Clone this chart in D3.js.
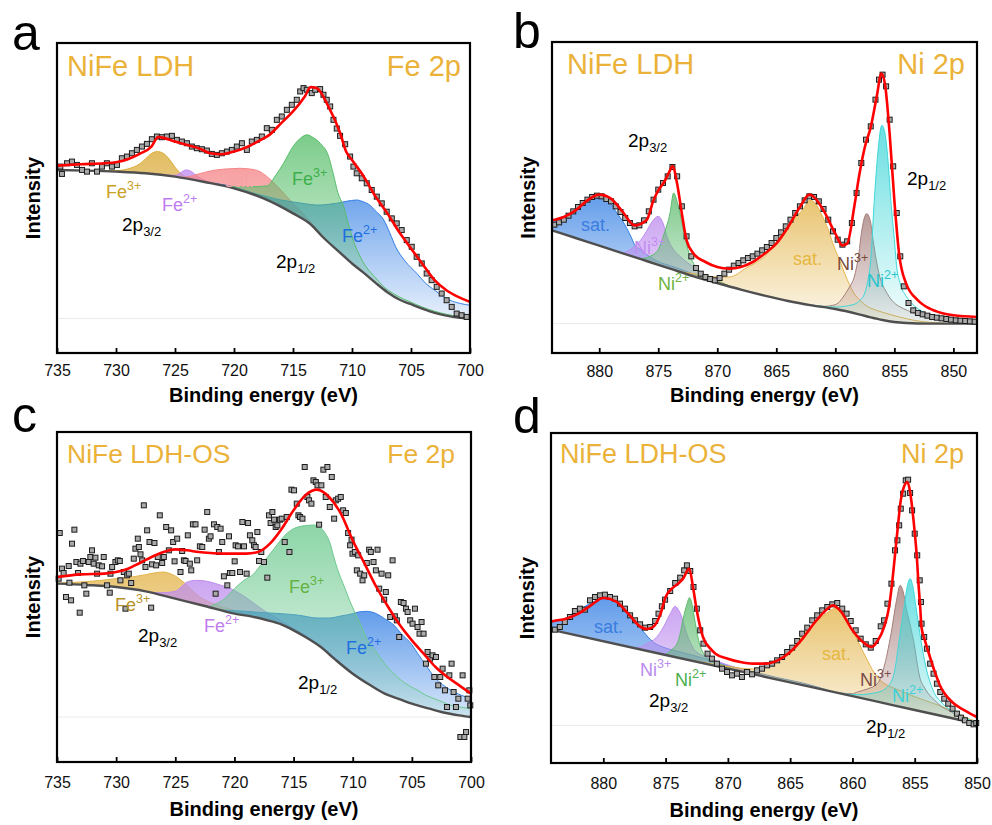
<!DOCTYPE html>
<html>
<head>
<meta charset="utf-8">
<script src="https://cdn.jsdelivr.net/npm/d3@7"></script>
<style>
  body { margin: 0; background: #fff; }
  svg text { font-family: Arial, "Liberation Sans", Helvetica, sans-serif; }
</style>
</head>
<body>
<script>
// ---------- data: [binding energy (eV), intensity (a.u.)] ----------

// panel a : NiFe LDH, Fe 2p
const aData = [[734.72,558],[734.58,536],[734.15,568],[733.73,573],[733.31,563],[732.88,548],[732.46,543],[732.04,568],[731.61,543],[731.19,558],[730.77,568],[730.34,558],[729.92,563],[729.50,583],[729.07,588],[728.65,598],[728.23,608],[727.80,618],[727.38,626],[726.96,640],[726.53,648],[726.11,646],[725.69,648],[725.26,650],[724.84,638],[724.42,633],[723.99,628],[723.57,618],[723.15,613],[722.72,610],[722.30,606],[721.88,596],[721.45,593],[721.03,598],[720.60,603],[720.18,608],[719.76,618],[719.33,628],[718.91,608],[718.49,633],[718.06,638],[717.64,648],[717.22,673],[716.79,668],[716.37,698],[715.95,708],[715.52,728],[715.10,743],[714.68,758],[714.39,783],[714.11,793],[713.83,788],[713.41,778],[713.12,788],[712.70,790],[712.42,773],[712.14,758],[711.85,738],[711.57,698],[711.29,672],[711.01,650],[710.58,625],[710.16,588],[709.88,558],[709.60,538],[709.17,523],[708.75,508],[708.33,488],[707.90,468],[707.48,448],[707.06,423],[706.63,403],[706.21,388],[705.79,368],[705.36,338],[704.94,318],[704.52,288],[704.09,268],[703.67,238],[703.25,218],[702.82,198],[702.40,178],[701.98,158],[701.55,138],[701.13,118],[700.71,113],[700.28,108]];
const aFit = [[735,561],[733,565],[731,568],[730,571],[729,580],[728,596],[727,618],[726.4,647],[726,644],[725,633],[724.3,626],[723.5,618],[723,613],[722,598],[721,595],[720,603],[719,615],[718,633],[717,653],[716,688],[715,723],[714,768],[713.5,796],[713,793],[712,738],[711,658],[710.5,603],[710,578],[709,528],[708,468],[707,418],[706,362],[705,313],[704,265],[703,218],[702,188],[701,168],[700,153]];
const aBg = [[735,548],[732.5,546],[730,543],[727.5,538],[725,528],[722.5,512],[720,493],[717.5,463],[715,418],[713.5,385],[712.5,348],[711,300],[710,268],[709,240],[708,210],[707,182],[706,160],[705,146],[704,132],[703,120],[702,112],[701,106],[700,103]];
const aFe3Low = [[735,548],[731,546],[730,546],[729,551],[728,566],[727.5,581],[727,597],[726.5,603],[726,598],[725.5,581],[725,556],[724.5,537],[724,526],[723,516],[722,508],[720,494],[718,470]];
const aFe2Low = [[727,537],[726,533],[725,532],[724.5,540],[724.1,548],[723.7,545],[723.2,532],[722.5,517],[722,511],[721,504],[720,497],[718,474],[716,445],[715,424]];
const aSat = [[724.5,526],[724,527],[723,536],[722,545],[721,550],[720,552],[719.5,553],[719,552],[718,546],[717.5,536],[717,522],[716.5,505],[716,487],[715.5,467],[715,448],[714,412],[713.5,392],[713,372],[712.5,352],[712,333]];
const aFe3High = [[723,516],[722.3,506],[720,498],[718.5,498],[717.2,500],[716.5,530],[715.8,568],[715,618],[714.4,642],[713.8,653],[713.3,645],[712.7,628],[712,590],[711.6,538],[711.2,480],[710.7,438],[710.3,385],[709.9,338],[709.4,295],[708.8,258],[708,225],[707.3,198],[706.5,178],[706,168],[705,152],[704,137],[703,125],[702,116],[701,110],[700,107]];
const aFe2High = [[722,509],[720,497],[718.5,480],[717.2,468],[716,458],[715,452],[714,447],[713,443],[712.7,443],[712,445],[711.3,448],[710.5,454],[709.6,458],[709,452],[708.5,443],[708,425],[707.3,398],[706.8,360],[706.3,318],[705.5,275],[704.5,238],[703.8,210],[703,188],[702.3,170],[701.7,158],[700.8,148],[700,143]];

// panel b : NiFe LDH, Ni 2p
const bData = [[883.8,385],[883.4,392],[883.0,400],[882.6,412],[882.2,425],[881.8,438],[881.4,450],[881.0,460],[880.6,468],[880.2,472],[879.8,470],[879.4,462],[879.0,455],[878.6,440],[878.2,423],[877.8,405],[877.4,390],[877.0,380],[876.6,383],[876.2,398],[875.8,425],[875.4,460],[875.0,490],[874.6,510],[874.2,530],[873.8,558],[873.4,530],[873.0,440],[872.6,350],[872.2,290],[871.8,255],[871.4,238],[871.0,228],[870.6,222],[870.2,218],[869.8,225],[869.4,238],[869.0,250],[868.6,262],[868.2,270],[867.8,278],[867.4,285],[867.0,290],[866.6,298],[866.2,308],[865.8,318],[865.4,330],[865.0,345],[864.6,362],[864.2,380],[863.8,400],[863.4,420],[863.0,440],[862.6,458],[862.2,470],[861.8,468],[861.4,455],[861.0,432],[860.6,400],[860.2,365],[859.8,340],[859.4,325],[859.0,335],[858.6,390],[858.2,480],[857.8,570],[857.4,640],[857.0,680],[856.6,760],[856.3,820],[856.0,835],[855.7,800],[855.4,700],[855.1,560],[854.8,420],[854.5,290],[854.2,200],[853.8,150],[853.4,128],[853.0,120],[852.6,116],[852.2,112],[851.8,108],[851.4,106],[851.0,104],[850.6,102],[850.2,100],[849.8,98],[849.4,97],[849.0,96],[848.6,95],[848.2,94]];
const bFit = [[884,398],[883,408],[882,428],[881,458],[880,475],[879,463],[878,423],[877,383],[876,398],[875.4,458],[875,488],[874.5,513],[874,548],[873.8,561],[873.4,508],[873,418],[872.6,338],[872,298],[871,273],[870,258],[869,253],[868,258],[867,273],[866,298],[865,328],[864,378],[863,438],[862.2,475],[862,473],[861,428],[860,358],[859.4,323],[859,328],[858.4,438],[858,528],[857.5,618],[857,678],[856.5,768],[856.1,838],[855.8,808],[855.4,658],[855,458],[854.6,298],[854,208],[853,158],[852,133],[851,120],[850,113],[848,108]];
const bBg = [[884,368],[882,345],[880,322],[878,299],[876,276],[874,253],[872,230],[870,210],[868,190],[866,172],[864,156],[862,143],[860,132],[858,116],[857,107],[856,99],[855,93],[854,90],[852,88],[848,88]];
const bSatHigh = [[884,393],[883,408],[882,430],[881,455],[880.3,476],[879.5,465],[879,448],[878.5,420],[878,395],[877.3,348],[877,325],[876.5,310],[876,296],[875.5,284],[875,274],[874,262],[873,250],[872,236],[871,224],[870,211]];
const bNi3High = [[879,311],[878,301],[877.4,310],[876.5,338],[876,365],[875.5,395],[875,410],[874.6,390],[874.25,348],[873.7,310],[873.1,288],[872.5,270],[872,258],[871.5,242],[871,230],[870,216],[869,201]];
const bNi2High = [[876.5,282],[875.7,290],[875,310],[874.5,358],[874,420],[873.7,480],[873.3,440],[872.8,358],[872.4,300],[872,268],[871.7,248],[871,232],[870,218],[869,201]];
const bSatLow = [[874,254],[873,244],[872,238],[871,232],[870,228],[869,228],[868.5,233],[867.7,252],[866.8,270],[866,290],[865.5,310],[864.9,338],[863.8,388],[862.6,438],[862.2,458],[861.9,456],[861.2,418],[860.6,370],[860.1,318],[859.6,275],[859.2,238],[858.8,205],[858.4,178],[857.9,158],[857.3,140],[856.5,128],[855.3,115],[854,103],[853,96],[851,90],[849,88],[848,88]];
const bNi3Low = [[862,144],[861,140],[860,145],[859.5,160],[859.2,175],[858.8,198],[858.4,228],[858,300],[857.8,358],[857.34,418],[857,390],[856.8,338],[856.3,238],[855.6,178],[855,150],[854.5,138],[853.9,128],[853,115],[852,105],[851,98],[850,95],[848,92]];
const bNi2Low = [[862,144],[860,138],[858.5,145],[858,155],[857.5,180],[857.3,208],[857,280],[856.7,458],[856.4,600],[856.06,683],[855.8,660],[855.5,560],[855.3,458],[855,340],[854.8,258],[854.5,208],[854,170],[853.5,148],[852.5,122],[851,106],[849,94],[848,92]];

// panel c : NiFe LDH-OS, Fe 2p
const cData = [[734.86,550],[734.77,687],[734.58,580],[734.44,567],[734.24,495],[734.01,588],[733.95,538],[733.81,485],[733.73,655],[733.53,697],[733.36,600],[733.22,567],[733.08,448],[733.02,595],[732.80,603],[732.69,530],[732.52,505],[732.32,600],[732.18,615],[732.04,635],[731.90,595],[731.75,613],[731.61,565],[731.47,590],[731.19,587],[731.05,615],[730.77,530],[730.54,508],[730.48,565],[730.34,585],[730.06,600],[729.86,605],[729.69,603],[729.64,545],[729.35,570],[729.21,460],[729.07,560],[728.93,565],[728.73,537],[728.51,610],[728.37,640],[728.17,670],[728.08,645],[727.94,623],[727.80,605],[727.66,770],[727.52,585],[727.38,695],[727.18,660],[727.04,463],[726.96,593],[726.76,657],[726.62,590],[726.48,615],[726.31,740],[726.11,597],[725.97,615],[725.77,705],[725.54,635],[725.35,695],[725.18,660],[725.06,602],[724.84,670],[724.56,570],[724.42,633],[724.27,605],[724.13,603],[723.94,680],[723.77,595],[723.65,575],[723.51,713],[723.29,713],[723.15,605],[722.92,647],[722.72,645],[722.52,697],[722.30,750],[722.16,670],[722.02,677],[721.73,713],[721.59,505],[721.45,705],[721.31,630],[721.17,700],[721.03,660],[720.89,557],[720.60,530],[720.46,677],[720.38,567],[720.18,567],[719.98,602],[719.90,650],[719.70,647],[719.53,570],[719.33,720],[719.19,647],[718.97,565],[718.85,717],[718.69,680],[718.49,665],[718.35,650],[718.21,645],[718.06,690],[717.92,603],[717.73,630],[717.50,600],[717.22,553],[717.08,740],[716.94,717],[716.79,750],[716.65,727],[716.51,705],[716.37,710],[716.15,727],[716.00,730],[715.75,660],[715.58,735],[715.35,630],[715.18,817],[714.96,815],[714.73,775],[714.59,740],[714.45,735],[714.25,730],[714.06,885],[713.83,795],[713.69,785],[713.49,775],[713.32,845],[713.12,840],[712.98,830],[712.84,712],[712.65,830],[712.48,877],[712.28,795],[712.14,885],[711.94,765],[711.77,855],[711.57,730],[711.43,785],[711.23,790],[711.01,795],[710.81,755],[710.58,747],[710.39,687],[710.22,650],[710.10,667],[710.02,625],[709.82,630],[709.65,575],[709.54,620],[709.37,565],[709.17,545],[709.03,560],[708.81,597],[708.61,637],[708.47,630],[708.24,600],[708.04,575],[707.90,637],[707.76,520],[707.56,565],[707.34,487],[707.20,510],[707.00,560],[706.83,435],[706.63,605],[706.43,437],[706.27,425],[706.07,375],[705.93,480],[705.70,477],[705.50,460],[705.36,450],[705.14,425],[704.94,415],[704.74,460],[704.52,405],[704.35,385],[704.18,420],[704.01,385],[703.81,295],[703.67,330],[703.47,310],[703.25,320],[703.10,255],[702.96,315],[702.77,230],[702.60,255],[702.40,280],[702.20,215],[702.03,165],[701.83,260],[701.64,295],[701.47,210],[701.27,165],[701.07,190],[700.90,75],[700.71,260],[700.56,75],[700.42,90],[700.28,190],[700.14,215],[700.06,170]];
const cFit = [[735,555],[733,563],[731,565],[730,570],[729,580],[728,597],[727,615],[726,630],[725,638],[724,635],[723,630],[722,627],[721,625],[720,625],[719,625],[718,630],[717,655],[716,700],[715,755],[714,800],[713,817],[712,795],[711,745],[710,665],[709,595],[708,525],[707,465],[706,410],[705,365],[704,325],[703,285],[702,255],[701,230],[700,205]];
const cBg = [[735,535],[732.5,531],[730,525],[727.5,512],[725,490],[722.5,468],[720,445],[718.5,436],[717.2,425],[716,412],[715,395],[714,375],[712.7,345],[711.5,308],[710,265],[708.5,230],[707.3,205],[706,188],[705,175],[703.5,160],[702.5,150],[701,140],[700,135]];
const cFe3Low = [[735,537],[733,540],[731,546],[729.5,552],[728.5,556],[727.5,562],[726.8,567],[726,570],[725.5,566],[725,558],[724.5,545],[724,530],[723.5,512],[722.9,495],[722,478],[721,465],[720,455],[719,442],[718,434],[717,428],[716,412],[715,398],[714,378],[713,352]];
const cFe2Low = [[727,508],[726,508],[725,512],[724.5,525],[724,540],[723.2,545],[722.3,542],[721.3,532],[720.3,520],[719.3,500],[718.3,475],[717.4,452],[716.6,435],[715.8,418],[715.2,405],[714,380],[713,355],[712,328],[711,297],[710,268],[709,243]];
const cFe3High = [[722,469],[721,485],[720,520],[719.2,545],[718.35,565],[717.8,590],[717.2,615],[716.6,642],[716.1,665],[715.5,688],[715,700],[714.4,707],[713.8,710],[713.2,711],[712.8,705],[712.3,685],[711.9,655],[711.6,615],[711.2,570],[710.7,525],[710.3,488],[709.9,455],[709.3,410],[708.75,365],[708,330],[707.3,295],[706.6,268],[705.9,245],[705.2,228],[704.5,215],[703.8,200],[703.1,190],[702.4,180],[701.7,170],[700.8,164],[700,160]];
const cFe2High = [[721,456],[719,452],[717.5,448],[716,445],[714.5,440],[713,432],[712,432],[711,438],[710,445],[709.5,450],[708.8,452],[708,445],[707.3,430],[706.5,410],[705.9,385],[705,352],[704.5,325],[703.8,290],[703.1,255],[702.4,232],[701.7,215],[700.8,200],[700,190]];

// panel d : NiFe LDH-OS, Ni 2p
const dData = [[883.89,400],[883.49,408],[883.09,423],[882.68,438],[882.28,456],[881.88,463],[881.48,460],[881.07,488],[880.67,498],[880.27,503],[879.87,505],[879.46,498],[879.06,493],[878.66,478],[878.26,463],[877.85,443],[877.45,428],[877.05,416],[876.65,406],[876.24,408],[875.84,426],[875.57,448],[875.30,470],[875.04,490],[874.63,516],[874.23,540],[873.83,556],[873.51,578],[873.29,593],[873.02,576],[872.76,528],[872.49,463],[872.22,398],[871.96,358],[871.63,328],[871.28,313],[870.88,298],[870.47,283],[870.07,273],[869.67,263],[869.27,268],[868.87,258],[868.46,273],[868.06,266],[867.66,278],[867.26,283],[866.85,293],[866.45,298],[866.05,308],[865.65,318],[865.24,333],[864.84,346],[864.44,366],[864.04,388],[863.63,406],[863.23,428],[862.83,443],[862.43,458],[862.02,468],[861.62,476],[861.22,480],[860.82,463],[860.47,448],[860.14,426],[859.74,398],[859.34,373],[858.93,356],[858.53,346],[858.13,366],[857.73,410],[857.46,428],[857.19,478],[856.87,538],[856.58,638],[856.39,668],[856.25,713],[856.12,763],[855.93,808],[855.72,848],[855.53,850],[855.37,810],[855.21,758],[855.0,688],[854.8,623],[854.6,548],[854.5,483],[854.45,418],[854.24,378],[854.02,343],[853.76,298],[853.49,268],[853.22,238],[852.95,213],[852.63,193],[852.31,178],[851.96,163],[851.61,148],[851.29,136],[850.97,128],[850.62,120],[850.27,116],[850.06,120]];
const dFit = [[884.2,424],[884,426],[883,433],[882,448],[881,473],[880,495],[879,485],[878,448],[877,408],[876.5,402],[876,408],[875.4,448],[875,498],[874.5,523],[874,538],[873.6,553],[873.1,583],[872.8,528],[872.5,458],[872,378],[871.4,343],[871,328],[870,313],[869,303],[868,298],[867,298],[866,308],[865,333],[864,373],[863,423],[862,463],[861.6,473],[861,458],[860,398],[859,358],[858.45,348],[858,365],[857.46,408],[857.06,468],[856.79,548],[856.52,648],[856.33,718],[856.12,788],[855.85,830],[855.58,843],[855.38,815],[855.18,758],[854.99,688],[854.83,618],[854.70,538],[854.56,468],[854.46,408],[854.2,370],[854,345],[853.4,275],[853,235],[852,183],[851,158],[850,138]];
const dBg = [[884.2,400],[875,324],[865,242],[858,184],[855,159],[850,118]];
const dSatHigh = [[884.2,422],[883,435],[882.4,448],[881.1,478],[880.4,490],[879.8,494],[879,485],[878.5,470],[877.85,448],[877.3,420],[876.8,395],[876,363],[875,345],[873.8,333],[872.5,320],[871.4,308],[870,292],[868,274],[866,256],[864,240],[862,219]];
const dNi3High = [[877.5,345],[877,348],[876.5,358],[876,368],[875.5,388],[875.17,408],[874.63,448],[874.23,470],[873.9,455],[873.7,438],[873.3,388],[872.76,343],[872.2,325],[871.7,318],[870.3,298],[869,282],[867,259]];
const dNi2High = [[875,325],[874.5,340],[874,365],[873.83,388],[873.56,438],[873.3,475],[873.08,496],[872.9,480],[872.7,438],[872.35,368],[871.95,328],[871.4,308],[870.5,295],[869.5,282],[868,267]];
const dSatLow = [[873,309],[872,302],[870,290],[868,282],[867,288],[866,305],[865.5,318],[864.9,340],[864.4,368],[863.4,408],[862.3,443],[861.5,463],[861.1,466],[860.8,458],[860.4,428],[860,400],[859.6,368],[859.2,338],[858.8,308],[858.4,280],[858,258],[857.5,240],[856.9,228],[856,215],[855.6,208],[854.2,188],[853,172],[851.6,150],[850.6,132],[850,125]];
const dNi3Low = [[861,210],[860,208],[859.6,213],[858.8,222],[858,238],[857.46,288],[857.2,330],[856.9,388],[856.5,480],[856.17,533],[855.9,510],[855.7,468],[855.4,420],[855.1,368],[854.6,258],[854.2,225],[853.9,208],[853.4,188],[852.8,168],[852,152],[851.5,138],[850.5,126],[850,122]];
const dNi2Low = [[861,210],[859.6,205],[858,212],[857.2,228],[856.66,268],[856.25,368],[855.85,468],[855.6,530],[855.37,553],[855.15,530],[854.9,468],[854.5,368],[854.1,288],[853.7,235],[853.4,208],[852.8,180],[852.1,158],[851.2,140],[850.5,128],[850,122]];

// ---------- layout ----------
const W = 992, H = 825;
const svg = d3.select("body").append("svg").attr("width", W).attr("height", H);
const defs = svg.append("defs");

const C = {
  feGold: "#D9AA35", fePurple: "#C08AF2", satPink: "#F58588", green: "#57BE6A", blue: "#3580E4",
  niPurple: "#BE8DEE", niGreen: "#5DBB6E", satGold: "#E3B44A", brown: "#A57E7B", cyan: "#3FD6D8",
  title: "#EBB23A"
};

const panels = [
  { id: "a", letter: "a", box: { l: 57, r: 470, t: 43, b: 353 }, x: [735, 700], yMax: 928, base: 103,
    ticks: [735, 730, 725, 720, 715, 710, 705, 700], tp: 12, axisY: 402,
    data: aData, fit: aFit, bg: aBg,
    comps: [[aFe3Low, C.feGold], [aFe2Low, C.fePurple], [aSat, C.satPink], [aFe2High, C.blue], [aFe3High, C.green]],
    title: "NiFe LDH", core: "Fe 2p", ts: 29, tl: [67, 76], tr: [461, 76], ly: 50, lx: 12,
    labels: [
      { t: "Fe", sup: "3+", x: 106, y: 198, c: "#C9A227" },
      { t: "Fe", sup: "2+", x: 162, y: 211, c: "#BF7CF2" },
      { t: "2p", sub: "3/2", x: 122, y: 231, c: "#000" },
      { t: "sat.", x: 225, y: 187, c: "#F7A3A3" },
      { t: "Fe", sup: "3+", x: 292, y: 185, c: "#3DAF4A" },
      { t: "Fe", sup: "2+", x: 342, y: 242, c: "#1E6FE0" },
      { t: "2p", sub: "1/2", x: 276, y: 268, c: "#000" }
    ] },
  { id: "b", letter: "b", box: { l: 552, r: 977, t: 42, b: 353 }, x: [884, 848], yMax: 933, base: 88,
    ticks: [880, 875, 870, 865, 860, 855, 850], tp: 13, axisY: 402,
    data: bData, fit: bFit, bg: bBg,
    comps: [[bSatHigh, C.blue], [bNi3High, C.niPurple], [bNi2High, C.niGreen], [bSatLow, C.satGold], [bNi3Low, C.brown], [bNi2Low, C.cyan]],
    title: "NiFe LDH", core: "Ni 2p", ts: 29, tl: [567, 74], tr: [965, 74], ly: 48, lx: 513,
    labels: [
      { t: "2p", sub: "3/2", x: 628, y: 147, c: "#000" },
      { t: "sat.", x: 581, y: 231, c: "#3A7DE0" },
      { t: "Ni", sup: "3+", x: 634, y: 254, c: "#C38DF2" },
      { t: "Ni", sup: "2+", x: 658, y: 290, c: "#6DB33F" },
      { t: "sat.", x: 793, y: 265, c: "#E6B740" },
      { t: "Ni", sup: "3+", x: 837, y: 270, c: "#7A4B3A" },
      { t: "Ni", sup: "2+", x: 867, y: 287, c: "#27C6CF" },
      { t: "2p", sub: "1/2", x: 907, y: 185, c: "#000" }
    ] },
  { id: "c", letter: "c", box: { l: 57, r: 471, t: 432, b: 762 }, x: [735, 700], yMax: 990, base: 135,
    ticks: [735, 730, 725, 720, 715, 710, 705, 700], tp: 15, axisY: 816,
    data: cData, fit: cFit, bg: cBg,
    comps: [[cFe3Low, C.satGold], [cFe2Low, C.niPurple], [cFe2High, C.blue], [cFe3High, "#6CC98F"]],
    title: "NiFe LDH-OS", core: "Fe 2p", ts: 26.5, tl: [67, 463], tr: [455, 463], ly: 432, lx: 12,
    labels: [
      { t: "Fe", sup: "3+", x: 115, y: 611, c: "#B8922A" },
      { t: "Fe", sup: "2+", x: 204, y: 632, c: "#C07CF0" },
      { t: "2p", sub: "3/2", x: 138, y: 642, c: "#000" },
      { t: "Fe", sup: "3+", x: 289, y: 593, c: "#64B343" },
      { t: "Fe", sup: "2+", x: 346, y: 654, c: "#1E6FE0" },
      { t: "2p", sub: "1/2", x: 298, y: 689, c: "#000" }
    ] },
  { id: "d", letter: "d", box: { l: 551, r: 977, t: 433, b: 763 }, x: [884.2, 850], yMax: 990, base: 113,
    ticks: [880, 875, 870, 865, 860, 855, 850], tp: 15, axisY: 817,
    data: dData, fit: dFit, bg: dBg,
    comps: [[dSatHigh, C.blue], [dNi3High, C.niPurple], [dNi2High, C.niGreen], [dSatLow, C.satGold], [dNi3Low, C.brown], [dNi2Low, C.cyan]],
    title: "NiFe LDH-OS", core: "Ni 2p", ts: 27, tl: [560, 463], tr: [964, 463], ly: 433, lx: 513,
    labels: [
      { t: "sat.", x: 594, y: 633, c: "#3A7DE0" },
      { t: "Ni", sup: "3+", x: 640, y: 676, c: "#B98AF0" },
      { t: "Ni", sup: "2+", x: 675, y: 686, c: "#4CAF50" },
      { t: "2p", sub: "3/2", x: 649, y: 707, c: "#000" },
      { t: "sat.", x: 822, y: 660, c: "#E6B740" },
      { t: "Ni", sup: "3+", x: 860, y: 686, c: "#7A4B4B" },
      { t: "Ni", sup: "2+", x: 892, y: 702, c: "#3CD0D8" },
      { t: "2p", sub: "1/2", x: 866, y: 733, c: "#000" }
    ] }
];

const byX = arr => arr.slice().sort((p, q) => q[0] - p[0]);

function addLabel(g, l) {
  const isP = l.t === "2p";
  const t = g.append("text").attr("x", l.x).attr("y", l.y).attr("fill", l.c)
    .style("font-size", (isP ? 19 : 18) + "px");
  t.append("tspan").text(l.t);
  if (l.sup) t.append("tspan").attr("dy", -8).style("font-size", "12.5px").text(l.sup);
  if (l.sub) t.append("tspan").attr("dy", 5).style("font-size", "13px").text(l.sub);
}

panels.forEach(p => {
  const x = d3.scaleLinear().domain(p.x).range([p.box.l, p.box.r]);
  const y = d3.scaleLinear().domain([0, p.yMax]).range([p.box.b, p.box.t]);
  const g = svg.append("g");

  const line = d3.line().x(d => x(d[0])).y(d => y(d[1])).curve(d3.curveMonotoneX);

  // clip: only what lies above the background
  const clipId = "clip-" + p.id;
  defs.append("clipPath").attr("id", clipId).append("path")
    .attr("d", d3.area().x(d => x(d[0])).y0(p.box.t).y1(d => y(d[1])).curve(d3.curveMonotoneX)(byX(p.bg)));

  // faint zero line
  g.append("line").attr("x1", p.box.l).attr("x2", p.box.r)
    .attr("y1", y(p.base)).attr("y2", y(p.base))
    .attr("stroke", "#eaeaea").attr("stroke-width", 1);

  // fitted components
  p.comps.forEach((c, i) => {
    const gid = `grad-${p.id}-${i}`;
    const grad = defs.append("linearGradient").attr("id", gid)
      .attr("x1", 0).attr("y1", 0).attr("x2", 0).attr("y2", 1);
    grad.append("stop").attr("offset", 0).attr("stop-color", c[1]).attr("stop-opacity", 0.78);
    grad.append("stop").attr("offset", 0.9).attr("stop-color", c[1]).attr("stop-opacity", 0.03);

    const pts = byX(c[0]);
    g.append("path").attr("clip-path", `url(#${clipId})`)
      .attr("fill", `url(#${gid})`)
      .attr("d", d3.area().x(d => x(d[0])).y0(p.box.b).y1(d => y(d[1])).curve(d3.curveMonotoneX)(pts));
    g.append("path").attr("clip-path", `url(#${clipId})`)
      .attr("fill", "none").attr("stroke", c[1]).attr("stroke-width", 1)
      .attr("d", line(pts));
  });

  // background
  g.append("path").attr("d", line(byX(p.bg)))
    .attr("fill", "none").attr("stroke", "#4f4f4f").attr("stroke-width", 2.4);

  // measured points
  g.selectAll("rect.pt").data(p.data).enter().append("rect").attr("class", "pt")
    .attr("x", d => x(d[0]) - 2.5).attr("y", d => y(d[1]) - 2.5)
    .attr("width", 5).attr("height", 5)
    .attr("fill", "#a9a9a9").attr("stroke", "#1c1c1c").attr("stroke-width", 1);

  // envelope
  g.append("path").attr("d", line(byX(p.fit)))
    .attr("fill", "none").attr("stroke", "#ff0000").attr("stroke-width", 2.6);

  // frame
  g.append("rect").attr("x", p.box.l).attr("y", p.box.t)
    .attr("width", p.box.r - p.box.l).attr("height", p.box.b - p.box.t)
    .attr("fill", "none").attr("stroke", "#000").attr("stroke-width", 2.2);

  const axis = d3.axisBottom(x).tickValues(p.ticks).tickSize(-5).tickSizeOuter(0)
    .tickPadding(p.tp).tickFormat(d3.format("d"));
  const ag = g.append("g").attr("transform", `translate(0,${p.box.b})`).call(axis);
  ag.select(".domain").remove();
  ag.selectAll("line").attr("stroke", "#000").attr("stroke-width", 1.8);
  ag.selectAll("text").attr("fill", "#111").style("font-size", "16px")
    .style("font-family", "Arial, 'Liberation Sans', sans-serif");

  g.append("text").attr("x", (p.box.l + p.box.r) / 2).attr("y", p.axisY)
    .attr("text-anchor", "middle").style("font-size", "20px").style("font-weight", "bold")
    .text("Binding energy (eV)");

  const iy = (p.box.t + p.box.b) / 2, ix = p.box.l - 24;
  g.append("text").attr("transform", `translate(${ix},${iy}) rotate(-90)`)
    .attr("text-anchor", "middle").attr("dy", "0.35em")
    .style("font-size", "20px").style("font-weight", "bold").text("Intensity");

  g.append("text").attr("x", p.tl[0]).attr("y", p.tl[1]).attr("fill", C.title)
    .style("font-size", p.ts + "px").text(p.title);
  g.append("text").attr("x", p.tr[0]).attr("y", p.tr[1]).attr("fill", C.title)
    .attr("text-anchor", "end").style("font-size", p.ts + "px").text(p.core);

  g.append("text").attr("x", p.lx).attr("y", p.ly).style("font-size", "50px").text(p.letter);

  p.labels.forEach(l => addLabel(g, l));
});
</script>
</body>
</html>
